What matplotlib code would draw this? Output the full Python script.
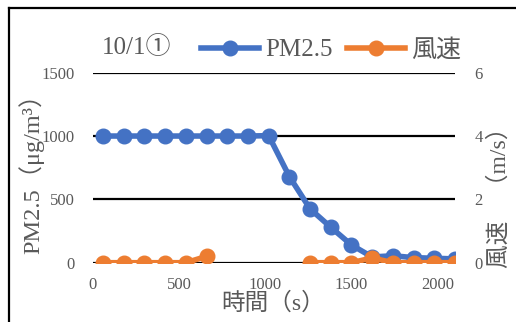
import numpy as np
import matplotlib
matplotlib.use("Agg")
import matplotlib.pyplot as plt
from matplotlib.lines import Line2D

# ---- data ----
time_s = [60, 180, 300, 420, 540, 660, 780, 900, 1020, 1140, 1260, 1380,
          1500, 1620, 1740, 1860, 1980, 2100]
pm25 = [1000, 1000, 1000, 1000, 1000, 1000, 1000, 1000, 1003, 680, 425, 280,
        140, 45, 55, 40, 35, 30]
wind = [0, 0, 0, 0, 0, 0.2, None, None, None, None, 0, 0,
        0, 0.15, 0, 0, 0, 0]
x_ticks = [0, 500, 1000, 1500, 2000]
left_ticks = [0, 500, 1000, 1500]
right_ticks = [0, 2, 4, 6]
title = "10/1①"
xlabel = "時間（s）"
ylabel_left = "PM2.5（μg/m³）"
ylabel_right = "風速　（m/s）"
series_names = ["PM2.5", "風速"]

BLUE = "#4472C4"
ORANGE = "#ED7D31"
GRAY = "#595959"
FAM = ["Liberation Serif", "Noto Sans CJK JP", "DejaVu Sans"]

plt.rcParams["font.family"] = FAM

W, H = 516, 322
fig = plt.figure(figsize=(W / 100, H / 100), dpi=100)
ax_l, ax_r, ax_t, ax_b = 92.7, 455.0, 72.7, 262.7
ax = fig.add_axes([ax_l / W, 1 - ax_b / H, (ax_r - ax_l) / W, (ax_b - ax_t) / H])
ax2 = ax.twinx()

ax.set_xlim(0, 2100)
ax.set_ylim(0, 1500)
ax2.set_ylim(0, 6)
ax.set_xticks(x_ticks)
ax.set_yticks(left_ticks)
ax2.set_yticks(right_ticks)

for a in (ax, ax2):
    for s in a.spines.values():
        s.set_visible(False)
    a.tick_params(length=0, colors=GRAY, labelsize=12)
ax.tick_params(axis="y", pad=13)
ax.tick_params(axis="x", pad=10)
ax2.tick_params(axis="y", pad=14)

ax.yaxis.grid(True, color="black", linewidth=1.6)
ax.set_axisbelow(True)

t = np.array(time_s, dtype=float)
w = np.array([np.nan if v is None else v for v in wind], dtype=float)

ax.plot(t, pm25, color=BLUE, linewidth=4, marker="o", markersize=10.5,
        zorder=3, solid_capstyle="round")
ax2.plot(t, w, color=ORANGE, linewidth=4, marker="o", markersize=10.5,
         zorder=3, solid_capstyle="round")
ax.set_zorder(ax2.get_zorder() - 1)
ax.patch.set_visible(True)
ax2.patch.set_visible(False)

# texts
fig.text(102 / W, 1 - 47 / H, title, fontsize=18, color=GRAY, ha="left", va="center")
fig.text(273 / W, 1 - 303 / H, xlabel, fontsize=17, color=GRAY, ha="center", va="center")
fig.text(31 / W, 1 - 168 / H, ylabel_left, fontsize=17.5, color=GRAY, ha="center",
         va="center", rotation=90)
fig.text(500 / W, 1 - 268 / H, ylabel_right, fontsize=17, color=GRAY, ha="center",
         va="bottom", rotation=90)

# legend
handles = [Line2D([], [], color=BLUE, linewidth=4, marker="o", markersize=10.5),
           Line2D([], [], color=ORANGE, linewidth=4, marker="o", markersize=10.5)]
leg = fig.legend(handles, series_names, loc="center", bbox_to_anchor=(331 / W, 1 - 50 / H),
                 ncol=2, frameon=False, fontsize=18, handlelength=2.3,
                 handletextpad=0.25, columnspacing=0.6, borderpad=0, borderaxespad=0)
for txt in leg.get_texts():
    txt.set_color(GRAY)

# chart frame
fig.add_artist(Line2D([8.5 / W, 8.5 / W], [0, 1 - 7.5 / H], transform=fig.transFigure,
                      color="black", linewidth=1.6))
fig.add_artist(Line2D([8.5 / W, 1], [1 - 7.5 / H, 1 - 7.5 / H], transform=fig.transFigure,
                      color="black", linewidth=1.6))

fig.savefig("out.png", dpi=100)
